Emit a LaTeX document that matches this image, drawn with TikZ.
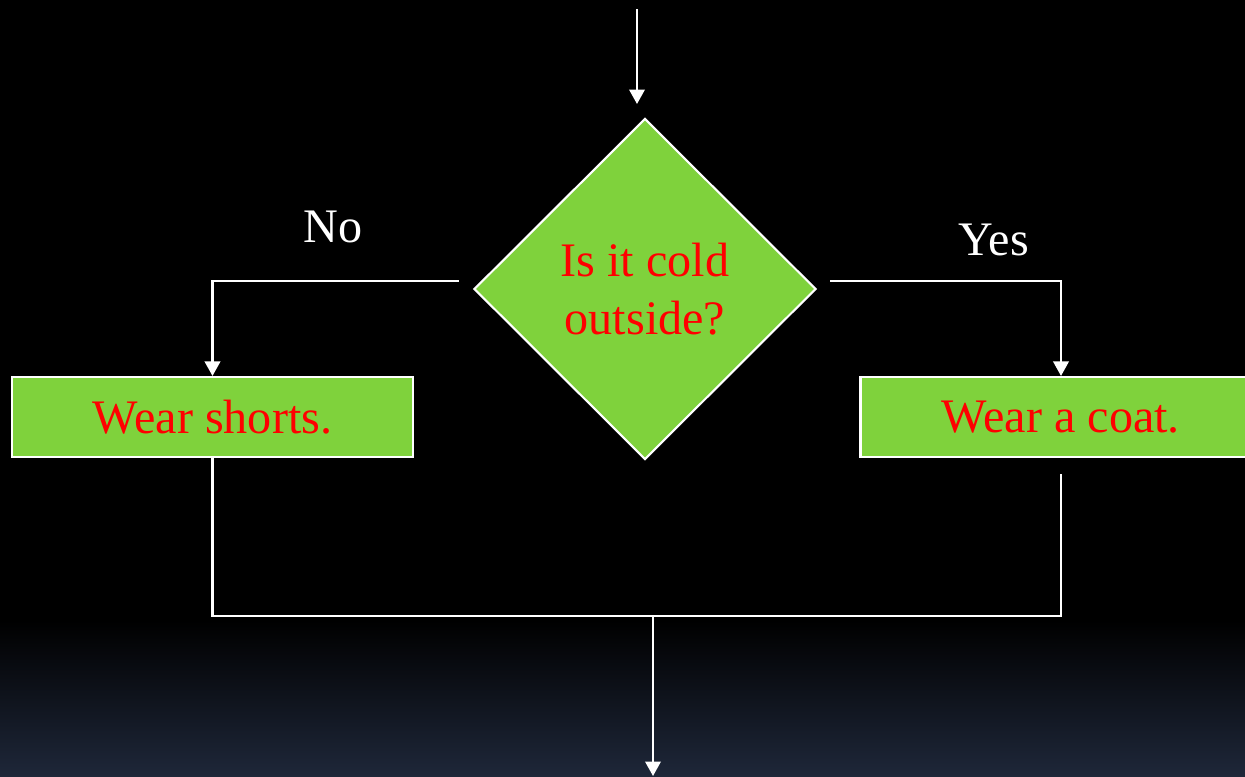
\documentclass[tikz,border=0pt]{standalone}
\usepackage{fontspec}
\setmainfont{Liberation Serif}
\usetikzlibrary{shapes.geometric, arrows.meta, positioning}

\definecolor{leafgreen}{RGB}{127,210,60}
\definecolor{nightblue}{RGB}{30,39,57}

\begin{document}
\begin{tikzpicture}[
    every node/.style={font=\fontsize{27.4}{33}\selectfont},
    box/.style={rectangle, draw=white, line width=1.2pt, fill=leafgreen, text=red, minimum width=8.02cm, minimum height=1.6cm, inner sep=0pt},
    decision/.style={diamond, draw=white, line width=1.2pt, fill=leafgreen, text=red, align=center, minimum width=6.84cm, minimum height=6.82cm, inner sep=0pt},
    line/.style={white, line width=1.2pt},
    arrow/.style={white, line width=1.2pt, -{Triangle[width=0.31cm,length=0.29cm]}},
    answer/.style={text=white}
  ]
    % Background
    \fill[black] (0,0) rectangle (24.9,-15.52);
    \shade[top color=black, bottom color=nightblue] (0,-12.4) rectangle (24.9,-15.52);
    \clip (0,0) rectangle (24.9,-15.52);
    % Nodes
    \node[decision] (cold) at (12.9,-5.78) {Is it cold\\outside?};
    \node[box] (shorts) at (4.25,-8.34) {Wear shorts.};
    \node[box] (coat) at (21.22,-8.34) {Wear a coat.};
    \node[answer] (no) at (6.66,-4.54) {No};
    \node[answer] (yes) at (19.88,-4.8) {Yes};
    \coordinate (entry) at (12.74,-0.18);
    \coordinate (entrytip) at (12.74,-2.08);
    \coordinate (merge) at (13.06,-12.32);
    \coordinate (exit) at (13.06,-15.52);
    % Arrows
    \draw[arrow] (entry) -- (entrytip);
    \draw[arrow, shorten <=0.28cm] ([yshift=0.16cm]cold.west) -| (shorts.north);
    \draw[arrow, shorten <=0.26cm] ([yshift=0.16cm]cold.east) -| (coat.north);
    % Merge below the boxes
    \draw[line] (shorts.south) |- (merge);
    \draw[line, shorten <=0.32cm] (coat.south) |- (merge);
    \draw[arrow] (merge) -- (exit);
\end{tikzpicture}
\end{document}
